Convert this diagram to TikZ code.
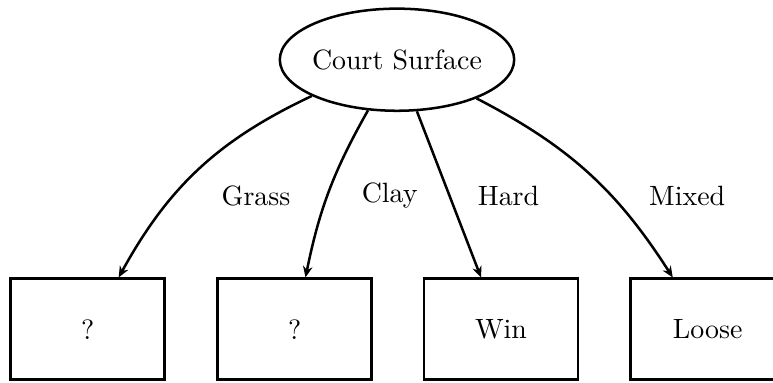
\documentclass[tikz,border=0pt]{standalone}
\usetikzlibrary{shapes.geometric,arrows.meta}
\begin{document}
\begin{tikzpicture}[x=0.3584pt,y=-0.3584pt,
  every node/.style={font=\fontsize{10}{12}\selectfont},
  rootnode/.style={draw,ellipse,line width=0.9pt,inner sep=0pt,minimum width=84pt,minimum height=36.6pt},
  leafbox/.style={draw,rectangle,line width=0.9pt,minimum width=55.2pt,minimum height=36.2pt},
  branch/.style={line width=0.9pt,-{Stealth[length=4pt,width=3.4pt]}},
  lbl/.style={inner sep=0pt}]
\useasboundingbox (0,0) rectangle (773,382);
\node[rootnode] (root) at (397,59.7) {\makebox[0pt]{Court Surface}};
\node[leafbox] (b1) at (87.7,329.2) {?};
\node[leafbox] (b2) at (294.7,329.2) {?};
\node[leafbox] (b3) at (501,329.2) {Win};
\node[leafbox] (b4) at (707.7,329.2) {Loose};
\draw[branch] (root) to[bend right=18] (b1);
\draw[branch] (root) to[bend right=9] (b2);
\draw[branch] (root) -- (b3);
\draw[branch] (root) to[bend left=15] (b4);
\node[lbl] (lg) at (256,196) {Grass};
\node[lbl] (lc) at (389.7,196) {Clay};
\node[lbl] (lh) at (508.5,196) {Hard};
\node[lbl] (lm) at (687.2,196) {Mixed};
\end{tikzpicture}
\end{document}
